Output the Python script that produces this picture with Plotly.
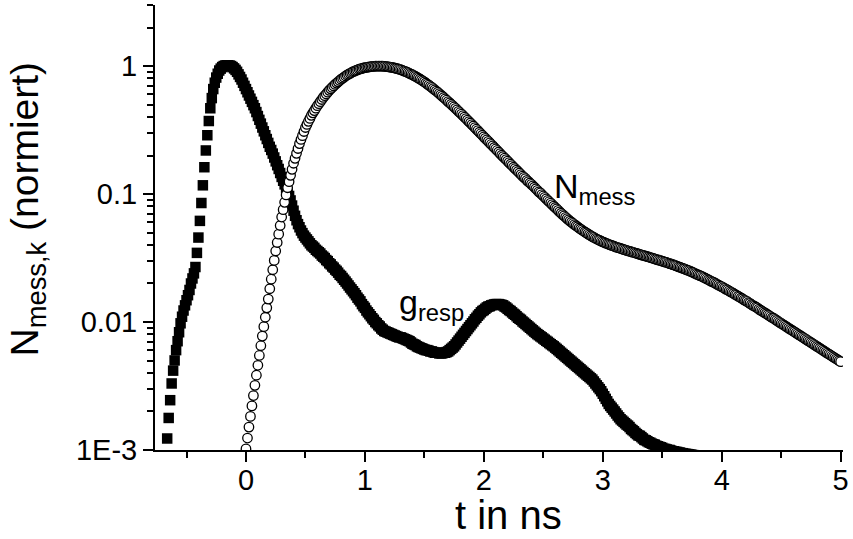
import plotly.graph_objects as go

# ---------------- data ----------------
channel_width_ns = 0.0125
g_resp_t_start = -0.6625
n_mess_t_start = 0.0

g_resp = [
    0.00123, 0.00178, 0.00245, 0.00331, 0.00417, 0.00501, 0.00603, 0.00708, 0.00832, 0.00977,
    0.0110, 0.0123, 0.0135, 0.0148, 0.0162, 0.0178, 0.0200, 0.0219, 0.0240, 0.0269,
    0.0347, 0.0457, 0.0617, 0.0851, 0.117, 0.162, 0.219, 0.288, 0.372, 0.468,
    0.562, 0.661, 0.741, 0.813, 0.871, 0.923, 0.955, 0.982, 1.0, 1.009,
    1.014, 1.014, 1.009, 1.0, 0.982, 0.959, 0.933, 0.902, 0.861, 0.822,
    0.785, 0.741, 0.700, 0.661, 0.624, 0.589, 0.556, 0.525, 0.495, 0.468,
    0.437, 0.407, 0.380, 0.355, 0.331, 0.309, 0.288, 0.269, 0.251, 0.234,
    0.221, 0.207, 0.193, 0.180, 0.168, 0.157, 0.146, 0.136, 0.127, 0.119,
    0.111, 0.104, 0.0966, 0.0891, 0.0813, 0.0741, 0.0676, 0.0624, 0.0582, 0.0550,
    0.0519, 0.0495, 0.0473, 0.0457, 0.0442, 0.0427, 0.0412, 0.0398, 0.0389, 0.0380,
    0.0367, 0.0359, 0.0351, 0.0343, 0.0331, 0.0324, 0.0316, 0.0305, 0.0299, 0.0288,
    0.0282, 0.0272, 0.0266, 0.0257, 0.0251, 0.0243, 0.0234, 0.0229, 0.0221, 0.0214,
    0.0207, 0.0200, 0.0193, 0.0186, 0.0180, 0.0174, 0.0168, 0.0162, 0.0155, 0.0150,
    0.0145, 0.0138, 0.0133, 0.0129, 0.0123, 0.0119, 0.0115, 0.0111, 0.0107, 0.0104,
    0.0100, 0.00977, 0.00944, 0.00923, 0.00891, 0.00871, 0.00851, 0.00841, 0.00832, 0.00822,
    0.00813, 0.00804, 0.00794, 0.00785, 0.00776, 0.00767, 0.00759, 0.00759, 0.00750, 0.00741,
    0.00733, 0.00724, 0.00716, 0.00708, 0.00692, 0.00676, 0.00668, 0.00661, 0.00646, 0.00638,
    0.00631, 0.00624, 0.00617, 0.00610, 0.00603, 0.00603, 0.00596, 0.00589, 0.00589, 0.00582,
    0.00575, 0.00575, 0.00575, 0.00569, 0.00569, 0.00569, 0.00575, 0.00575, 0.00582, 0.00589,
    0.00603, 0.00617, 0.00631, 0.00646, 0.00668, 0.00692, 0.00716, 0.00741, 0.00767, 0.00794,
    0.00822, 0.00851, 0.00881, 0.00912, 0.00944, 0.00977, 0.0101, 0.0105, 0.0108, 0.0112,
    0.0115, 0.0119, 0.0122, 0.0124, 0.0127, 0.0130, 0.0132, 0.0133, 0.0135, 0.0136,
    0.0137, 0.0138, 0.0138, 0.0138, 0.0137, 0.0136, 0.0135, 0.0132, 0.0130, 0.0127,
    0.0124, 0.0122, 0.0119, 0.0116, 0.0114, 0.0111, 0.0108, 0.0106, 0.0104, 0.0101,
    0.00989, 0.00966, 0.00944, 0.00923, 0.00902, 0.00881, 0.00861, 0.00841, 0.00822, 0.00804,
    0.00789, 0.00773, 0.00759, 0.00743, 0.00728, 0.00713, 0.00700, 0.00685, 0.00671, 0.00658,
    0.00646, 0.00631, 0.00617, 0.00603, 0.00589, 0.00575, 0.00562, 0.00550, 0.00537, 0.00525,
    0.00513, 0.00501, 0.00490, 0.00479, 0.00468, 0.00457, 0.00447, 0.00437, 0.00427, 0.00417,
    0.00407, 0.00398, 0.00389, 0.00380, 0.00372, 0.00363, 0.00355, 0.00343, 0.00331, 0.00320,
    0.00309, 0.00299, 0.00288, 0.00275, 0.00263, 0.00251, 0.00240, 0.00229, 0.00221, 0.00214,
    0.00207, 0.00200, 0.00193, 0.00186, 0.00180, 0.00174, 0.00170, 0.00166, 0.00162, 0.00158,
    0.00155, 0.00151, 0.00146, 0.00143, 0.00140, 0.00136, 0.00133, 0.00130, 0.00129, 0.00126,
    0.00123, 0.00120, 0.00119, 0.00117, 0.00115, 0.00114, 0.00112, 0.00111, 0.00110, 0.00108,
    0.00107, 0.00106, 0.00105, 0.00104, 0.00102, 0.00102, 0.00101, 0.00100, 0.00100, 0.000989,
    0.000977, 0.000977, 0.000966, 0.000966, 0.000955, 0.000955, 0.000944, 0.000944, 0.000933, 0.000933,
    0.000929, 0.000925, 0.000920, 0.000916, 0.000912, 0.000908, 0.000904, 0.000900, 0.000895, 0.000891,
    0.000887, 0.000883, 0.000879, 0.000875, 0.000871,
]

n_mess = [
    0.00102, 0.00124, 0.00151, 0.00183, 0.00221, 0.00266, 0.00320, 0.00384, 0.00459, 0.00548,
    0.00653, 0.00776, 0.00920, 0.0109, 0.0129, 0.0151, 0.0182, 0.0216, 0.0256, 0.0303,
    0.0359, 0.0418, 0.0486, 0.0568, 0.0661, 0.0755, 0.0861, 0.0984, 0.112, 0.125,
    0.140, 0.156, 0.174, 0.190, 0.208, 0.227, 0.248, 0.267, 0.286, 0.308,
    0.331, 0.350, 0.370, 0.390, 0.412, 0.431, 0.449, 0.469, 0.490, 0.508,
    0.527, 0.548, 0.569, 0.587, 0.605, 0.625, 0.646, 0.664, 0.681, 0.700,
    0.719, 0.736, 0.753, 0.771, 0.789, 0.803, 0.818, 0.836, 0.851, 0.864,
    0.877, 0.890, 0.904, 0.914, 0.923, 0.933, 0.944, 0.951, 0.959, 0.966,
    0.973, 0.977, 0.982, 0.986, 0.991, 0.993, 0.995, 0.998, 1.0, 1.0,
    1.0, 0.999, 0.998, 0.995, 0.993, 0.990, 0.986, 0.982, 0.977, 0.972,
    0.966, 0.959, 0.953, 0.945, 0.938, 0.928, 0.918, 0.909, 0.900, 0.888,
    0.877, 0.866, 0.855, 0.842, 0.830, 0.818, 0.805, 0.792, 0.778, 0.765,
    0.752, 0.737, 0.723, 0.709, 0.695, 0.681, 0.667, 0.652, 0.638, 0.624,
    0.610, 0.596, 0.582, 0.568, 0.555, 0.541, 0.528, 0.515, 0.503, 0.491,
    0.479, 0.467, 0.455, 0.443, 0.432, 0.421, 0.410, 0.399, 0.389, 0.378,
    0.368, 0.359, 0.349, 0.340, 0.330, 0.321, 0.313, 0.304, 0.296, 0.288,
    0.280, 0.272, 0.265, 0.258, 0.251, 0.244, 0.238, 0.231, 0.225, 0.219,
    0.213, 0.207, 0.201, 0.196, 0.191, 0.186, 0.181, 0.176, 0.171, 0.167,
    0.162, 0.158, 0.154, 0.150, 0.146, 0.142, 0.138, 0.135, 0.132, 0.128,
    0.125, 0.122, 0.119, 0.116, 0.113, 0.110, 0.107, 0.104, 0.102, 0.0991,
    0.0966, 0.0942, 0.0917, 0.0893, 0.0871, 0.0849, 0.0827, 0.0805, 0.0785, 0.0766,
    0.0746, 0.0726, 0.0708, 0.0691, 0.0675, 0.0658, 0.0643, 0.0629, 0.0615, 0.0602,
    0.0589, 0.0577, 0.0565, 0.0555, 0.0543, 0.0533, 0.0524, 0.0514, 0.0505, 0.0497,
    0.0488, 0.0480, 0.0472, 0.0465, 0.0458, 0.0451, 0.0445, 0.0439, 0.0434, 0.0428,
    0.0423, 0.0418, 0.0413, 0.0409, 0.0405, 0.0401, 0.0397, 0.0393, 0.0389, 0.0385,
    0.0382, 0.0379, 0.0376, 0.0372, 0.0369, 0.0366, 0.0363, 0.0360, 0.0357, 0.0354,
    0.0352, 0.0349, 0.0346, 0.0343, 0.0340, 0.0338, 0.0335, 0.0332, 0.0330, 0.0327,
    0.0324, 0.0322, 0.0319, 0.0317, 0.0314, 0.0311, 0.0309, 0.0306, 0.0304, 0.0302,
    0.0299, 0.0296, 0.0294, 0.0292, 0.0289, 0.0286, 0.0284, 0.0281, 0.0279, 0.0276,
    0.0273, 0.0270, 0.0268, 0.0265, 0.0262, 0.0260, 0.0257, 0.0254, 0.0252, 0.0249,
    0.0246, 0.0243, 0.0240, 0.0237, 0.0234, 0.0231, 0.0229, 0.0226, 0.0223, 0.0220,
    0.0217, 0.0214, 0.0211, 0.0208, 0.0206, 0.0203, 0.0200, 0.0197, 0.0194, 0.0191,
    0.0189, 0.0186, 0.0183, 0.0180, 0.0178, 0.0175, 0.0172, 0.0170, 0.0167, 0.0164,
    0.0162, 0.0159, 0.0157, 0.0154, 0.0152, 0.0149, 0.0147, 0.0145, 0.0142, 0.0140,
    0.0137, 0.0135, 0.0133, 0.0131, 0.0129, 0.0126, 0.0124, 0.0122, 0.0120, 0.0118,
    0.0116, 0.0114, 0.0112, 0.0110, 0.0108, 0.0107, 0.0105, 0.0103, 0.0101, 0.00994,
    0.00977, 0.00960, 0.00944, 0.00928, 0.00912, 0.00897, 0.00881, 0.00866, 0.00851, 0.00837,
    0.00822, 0.00808, 0.00794, 0.00781, 0.00767, 0.00754, 0.00741, 0.00729, 0.00716, 0.00704,
    0.00692, 0.00680, 0.00668, 0.00657, 0.00646, 0.00635, 0.00624, 0.00613, 0.00603, 0.00592,
    0.00582, 0.00572, 0.00562, 0.00553, 0.00543, 0.00534, 0.00525, 0.00516, 0.00507, 0.00498,
    0.00490,
]

x_tick_values = [0, 1, 2, 3, 4, 5]
x_tick_labels = ["0", "1", "2", "3", "4", "5"]
y_tick_values = [0.001, 0.01, 0.1, 1]
y_tick_labels = ["1E-3", "0.01", "0.1", "1"]

# ---------------- figure ----------------
g_t = [g_resp_t_start + i * channel_width_ns for i in range(len(g_resp))]
n_t = [n_mess_t_start + i * channel_width_ns for i in range(len(n_mess))]

FONT = "Liberation Sans, Arial, Helvetica, sans-serif"

fig = go.Figure()
fig.add_trace(go.Scatter(
    x=g_t, y=g_resp, mode="markers", name="g_resp", showlegend=False,
    marker=dict(symbol="square", size=10.5, color="black", line=dict(width=0)),
))
fig.add_trace(go.Scatter(
    x=n_t, y=n_mess, mode="markers", name="N_mess", showlegend=False,
    marker=dict(symbol="circle", size=9.5, color="white", line=dict(color="black", width=1.3)),
))

x_minor = [v + 0.5 for v in range(-1, 5)]
y_minor = [m * 10.0 ** e for e in (-3, -2, -1) for m in range(2, 10)] + [2, 2.99]

axis_common = dict(
    showline=True, linecolor="black", linewidth=2, mirror=False,
    ticks="outside", ticklen=10, tickwidth=2, tickcolor="black",
    showgrid=False, zeroline=False, ticklabeloverflow="allow",
    tickfont=dict(family=FONT, size=29, color="black"),
)

fig.update_layout(
    width=853, height=539,
    margin=dict(l=155, r=4, t=5, b=89),
    paper_bgcolor="white", plot_bgcolor="white",
    font=dict(family=FONT, color="black"),
    xaxis=dict(
        range=[-0.765, 5.02], tickmode="array", tickvals=x_tick_values, ticktext=x_tick_labels,
        ticklabelstandoff=-7,
        minor=dict(tickmode="array", tickvals=x_minor, ticks="outside", ticklen=6, tickwidth=2,
                   tickcolor="black", showgrid=False),
        **axis_common,
    ),
    yaxis=dict(
        type="log", range=[-3, 0.4771], tickmode="array", tickvals=y_tick_values, ticktext=y_tick_labels,
        minor=dict(tickmode="array", tickvals=y_minor, ticks="outside", ticklen=6, tickwidth=2,
                   tickcolor="black", showgrid=False),
        **axis_common,
    ),
    annotations=[
        dict(text="N<sub>mess,k</sub> (normiert)", textangle=-90, xref="paper", yref="paper",
             x=-0.185, y=0.54, xanchor="center", yanchor="middle", showarrow=False,
             font=dict(family=FONT, size=39, color="black")),
        dict(text="t in ns", xref="paper", yref="paper", x=0.5145, y=-0.147,
             xanchor="center", yanchor="middle", showarrow=False, borderpad=0,
             font=dict(family=FONT, size=40, color="black")),
        dict(text="N<sub>mess</sub>", xref="paper", yref="paper", x=0.577, y=0.587,
             xanchor="left", yanchor="middle", showarrow=False,
             font=dict(family=FONT, size=34, color="black")),
        dict(text="g<sub>resp</sub>", xref="paper", yref="paper", x=0.352, y=0.328,
             xanchor="left", yanchor="middle", showarrow=False,
             font=dict(family=FONT, size=34, color="black")),
    ],
)

fig.write_html("out.html")
